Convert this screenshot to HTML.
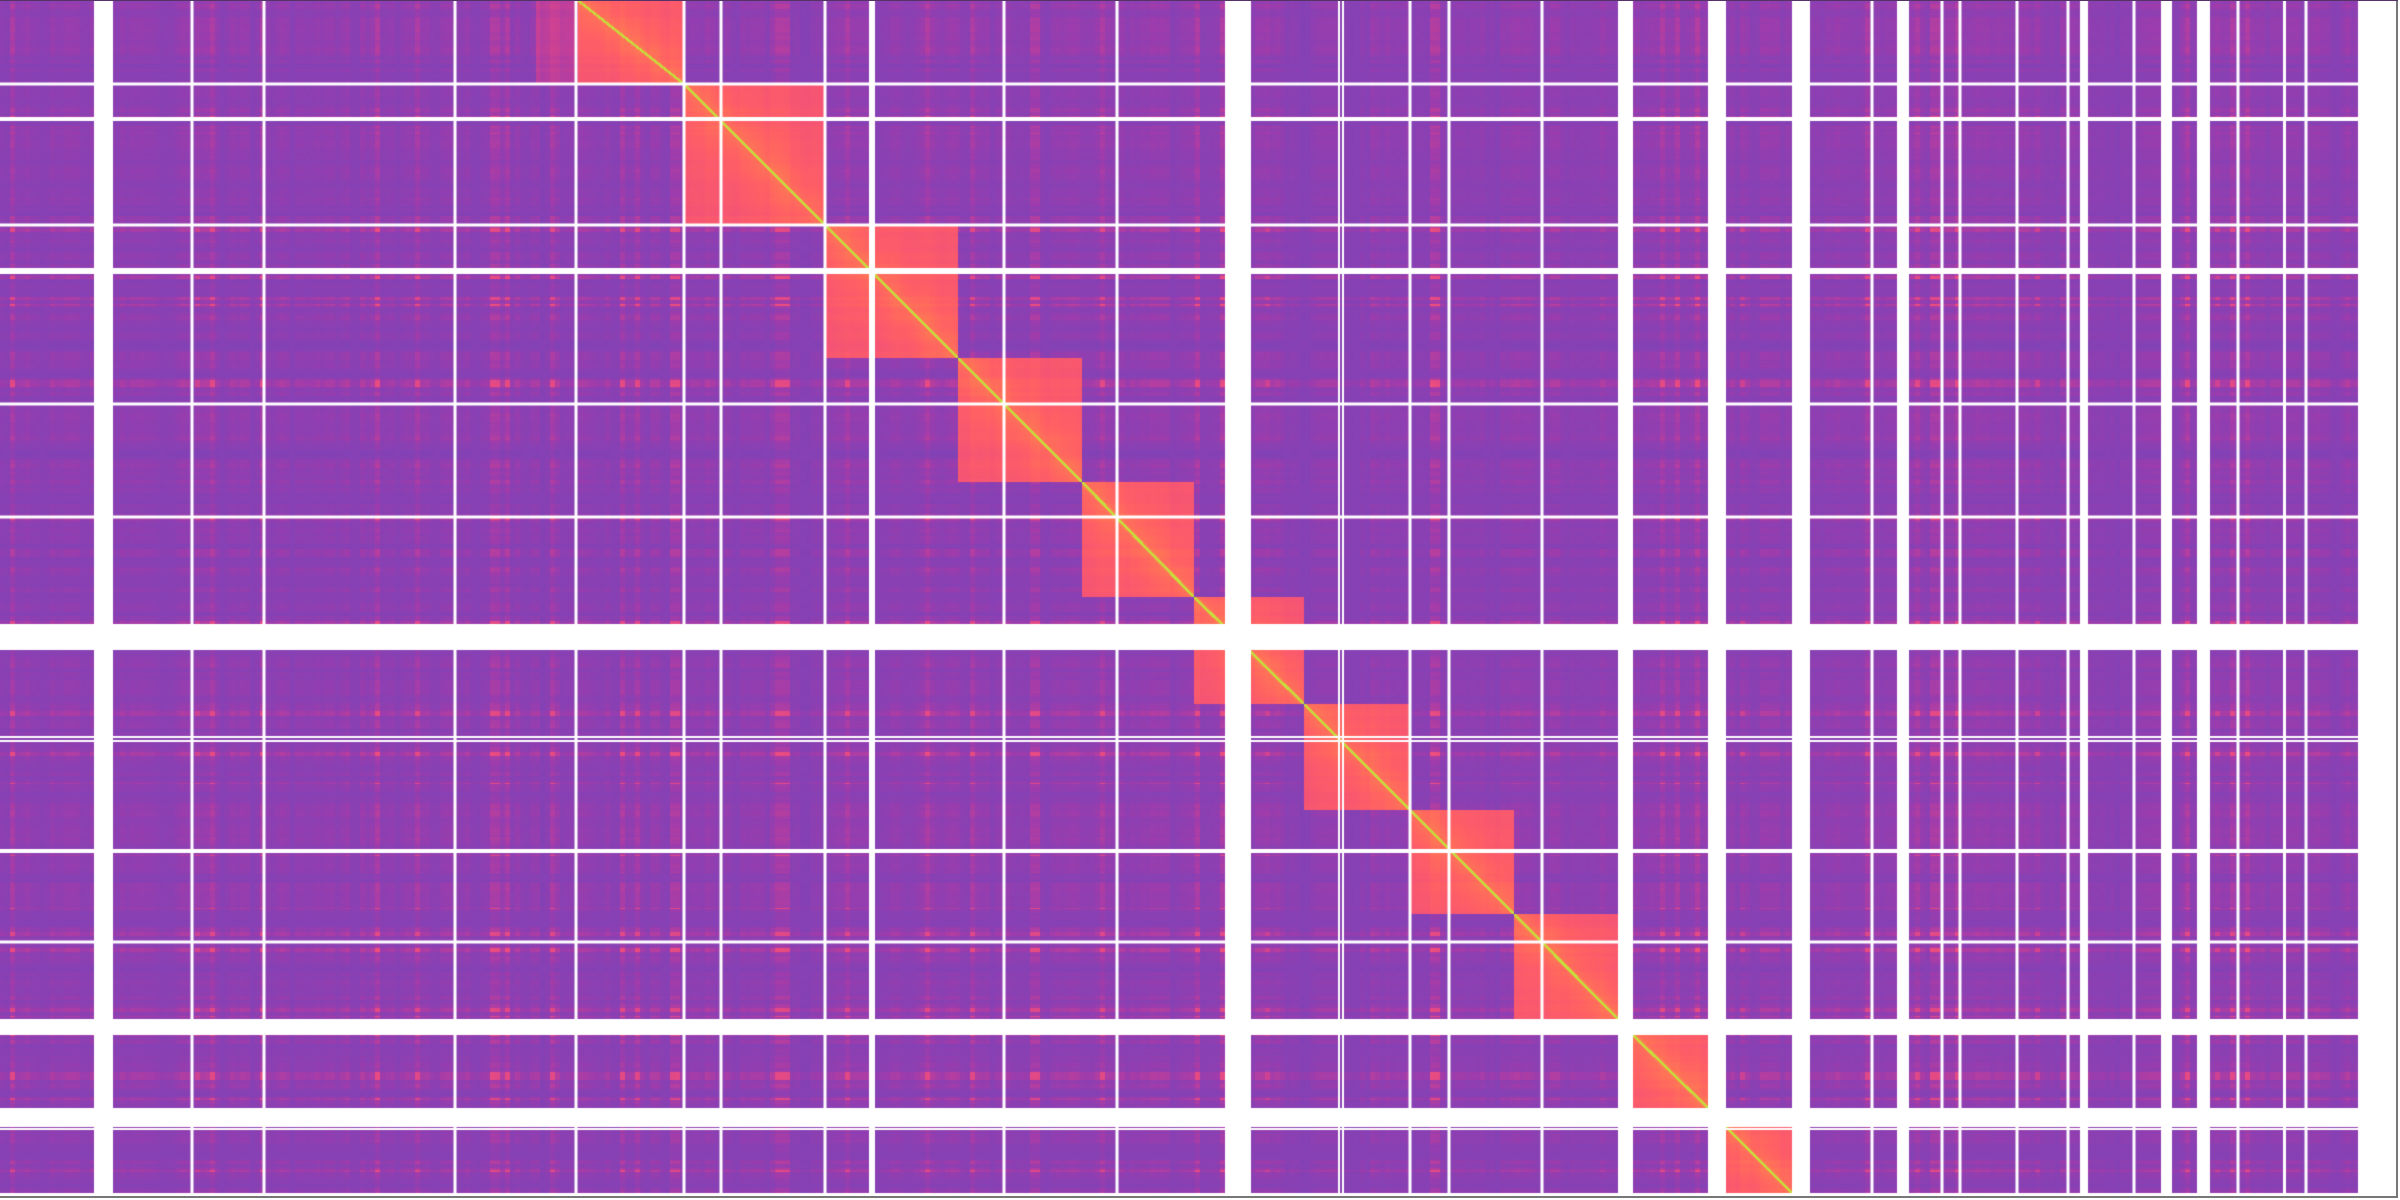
<!DOCTYPE html>
<html><head><meta charset="utf-8"><style>
html,body{margin:0;padding:0;background:#fff;width:2400px;height:1200px;overflow:hidden}
#wrap{position:relative;width:2400px;height:1200px}
canvas{position:absolute;left:0;top:0}
.frame{position:absolute;background:#777}
</style></head><body>
<div id="wrap">
<canvas id="hm" width="2400" height="1200"></canvas>
<div class="frame" style="left:2396px;top:0;width:2px;height:1198px"></div>
<div class="frame" style="left:0;top:1196px;width:2398px;height:2px"></div>
<div class="frame" style="left:0;top:0;width:2398px;height:1px;background:#553366"></div>
</div>
<script>
// column axis: chromosome / scaffold segments (bins), "gap" = unmapped
const colNames = ['u1','gap','u2','u3','u4','u5','chr1','chr2','chr3','chr4','chr5','chr6','gap','chr6','chr7','chr8','chr9','gap','chr10','gap','chr11','gap','v1','v2','gap','v3','v4','v5','v6','v7','gap','v8','v9','gap','v10','gap','v11','v12','gap','v13','v14'];
const colLens  = [94,19,79,72,191,81,148,141,133,124,112,31,26,53,106,104,104,15,75,18,66,18,62,25,12,33,18,57,51,12,8,46,27,11,25,13,28,45,3,20,52];
// contig breaks along columns (bin positions) and their widths
const colBreaks = [192,264,455,576,684,721,825,872,1004,1117,1339,1343,1410,1449,1542,1872,1942,1960,2017,2068,2134,2238,2306];
const colBreakW = [3,3,3,3,3,3,3,6,3,3,2,2,3,3,3,3,3,3,3,3,3,3,3];
// row axis segments
const rowNames = ['chr1','chr2','chr3','chr4','chr5','chr6','gap','chr6','chr7','chr8','chr9','gap','chr10','gap','chr11'];
const rowLens  = [84,141,133,124,115,27,26,54,106,104,105,16,73,19,66];
const rowBreaks = [84,119,225,271,404,517,737,741,851,942,1129];
const rowBreakW = [3,4,3,6,3,3,2,2,4,3,2];
// fraction of each chromosome where row coverage starts
const rowChroms = ['chr1','chr2','chr3','chr4','chr5','chr6','chr7','chr8','chr9','chr10','chr11'];
const rowCoverStart = [0.28,0,0,0,0,0,0,0,0,0,0];
// contact levels
const interLevel = 0.27;
const intraFar = 0.67;
const intraNear = 0.17;
const intraDecay = 45;
const uncoveredLevel = 0.47;

const cv = document.getElementById('hm');
const ctx = cv.getContext('2d');
const W = 2400, H = 1200;

function buildAxis(names, lens){
  const seg=[]; let p=0; const chrom={};
  for(let i=0;i<names.length;i++){
    seg.push({name:names[i],start:p,end:p+lens[i]});
    if(names[i]!=='gap'){
      if(!chrom[names[i]]) chrom[names[i]]={start:p,end:p+lens[i]};
      else chrom[names[i]].end=p+lens[i];
    }
    p+=lens[i];
  }
  const lookup=new Array(p);
  seg.forEach(s=>{for(let k=s.start;k<s.end;k++) lookup[k]=s.name;});
  return {seg,chrom,lookup,total:p};
}
const X = buildAxis(colNames,colLens);
const Y = buildAxis(rowNames,rowLens);

const stops=[[0,[105,74,190]],[0.2,[128,66,182]],[0.35,[158,60,172]],[0.5,[200,64,150]],[0.62,[240,78,124]],[0.76,[255,96,100]],[0.88,[255,125,80]],[1,[196,224,60]]];
function cmap(v){
  v=Math.max(0,Math.min(1,v));
  for(let i=1;i<stops.length;i++){
    if(v<=stops[i][0]){
      const a=stops[i-1],b=stops[i],t=(v-a[0])/(b[0]-a[0]);
      return [a[1][0]+(b[1][0]-a[1][0])*t,a[1][1]+(b[1][1]-a[1][1])*t,a[1][2]+(b[1][2]-a[1][2])*t];
    }
  }
  return stops[stops.length-1][1];
}
function hash(n){const s=Math.sin(n*12.9898+78.233)*43758.5453;return s-Math.floor(s);}

// per-bin texture from bin index (blocky)
const colTex=new Float32Array(X.total), rowTex=new Float32Array(Y.total);
for(let x=0;x<X.total;x++){colTex[x]=hash(Math.floor(x/10))*0.55+hash(Math.floor(x/5)+999)*0.45;}
for(let y=0;y<Y.total;y++){rowTex[y]=hash(Math.floor(y/9)+5000)*0.55+hash(Math.floor(y/4)+7777)*0.45;}

const img=ctx.createImageData(W,H);
const d=img.data;
for(let i=0;i<d.length;i+=4){d[i]=255;d[i+1]=255;d[i+2]=255;d[i+3]=255;}
for(let y=0;y<Y.total;y++){
  const rn=Y.lookup[y]; if(rn==='gap') continue;
  const rc=Y.chrom[rn]; const ci=X.chrom[rn];
  const idx=rowChroms.indexOf(rn);
  const cs=ci.start+(ci.end-ci.start)*rowCoverStart[idx];
  const colPos=cs+(y-rc.start+0.5)/(rc.end-rc.start)*(ci.end-cs);
  for(let x=0;x<X.total;x++){
    const cn=X.lookup[x]; if(cn==='gap') continue;
    let v;
    const rt=rowTex[y], ct=colTex[x];
    if(cn===rn){
      const dist=Math.abs(x+0.5-colPos);
      if(dist<1.6) v=1.0;
      else if(dist<3) v=0.9;
      else if(x<cs) v=uncoveredLevel+0.08*(rt+ct-1);
      else v=intraFar+intraNear*Math.exp(-dist/intraDecay)+0.05*(rt+ct-1);
    } else {
      v=interLevel+0.12*(rt-0.5)+0.1*(ct-0.5)+0.08*(rt-0.5)*(ct-0.5)*4;
      if(rt>0.8) v+=0.06;
      if(ct>0.82) v+=0.05;
      if(rt>0.8&&ct>0.8) v+=0.08;
    }
    const c=cmap(v); const o=(y*W+x)*4;
    d[o]=c[0];d[o+1]=c[1];d[o+2]=c[2];
  }
}
ctx.putImageData(img,0,0);
// contig break lines
ctx.fillStyle='#ffffff';
colBreaks.forEach((b,i)=>{ctx.fillRect(b-colBreakW[i]/2,0,colBreakW[i],Y.total);});
rowBreaks.forEach((b,i)=>{ctx.fillRect(0,b-rowBreakW[i]/2,X.total,rowBreakW[i]);});
</script>
</body></html>
